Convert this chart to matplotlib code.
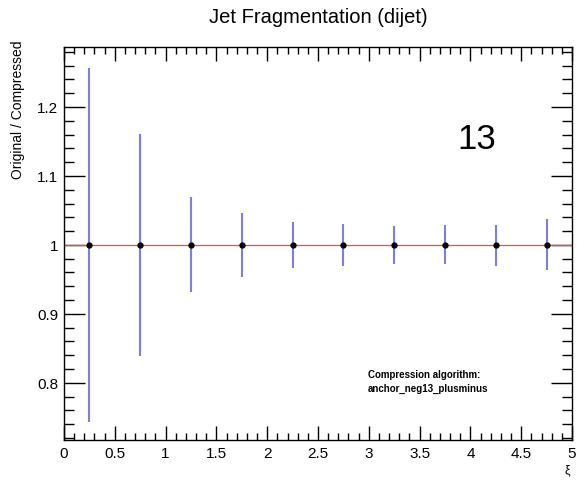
import numpy as np
import matplotlib.pyplot as plt
from matplotlib.ticker import MultipleLocator

plt.rcParams["font.family"] = ["Liberation Sans", "DejaVu Sans"]

# ratio per xi bin
xi_centers = [0.25, 0.75, 1.25, 1.75, 2.25, 2.75, 3.25, 3.75, 4.25, 4.75]
ratio = [1.0, 1.0, 1.0, 1.0, 1.0, 1.0, 1.0, 1.0005, 0.9995, 1.0]
ratio_err = [0.257, 0.161, 0.069, 0.046, 0.033, 0.030, 0.028, 0.028, 0.030, 0.037]
bin_edges = [0.0, 0.5, 1.0, 1.5, 2.0, 2.5, 3.0, 3.5, 4.0, 4.5, 5.0]

fig = plt.figure(figsize=(5.77, 4.81), dpi=100)
ax = fig.add_axes([0.1109, 0.0832, 0.8804, 0.817])

# red ratio histogram line
ax.stairs(ratio, bin_edges, color="#f04848", linewidth=0.9, baseline=None, zorder=2)

ax.errorbar(xi_centers, ratio, yerr=ratio_err, fmt="o", color="black",
            markersize=3.5, ecolor="#7f7fd8", elinewidth=1.5, capsize=0, zorder=3)

ax.set_xlim(0, 5)
ax.set_ylim(0.717, 1.287)

ax.xaxis.set_minor_locator(MultipleLocator(0.1))
ax.yaxis.set_minor_locator(MultipleLocator(0.02))
ax.set_xticks([0, 0.5, 1, 1.5, 2, 2.5, 3, 3.5, 4, 4.5, 5])
ax.set_xticklabels(["0", "0.5", "1", "1.5", "2", "2.5", "3", "3.5", "4", "4.5", "5"])
ax.set_yticks([0.8, 0.9, 1.0, 1.1, 1.2])
ax.set_yticklabels(["0.8", "0.9", "1", "1.1", "1.2"])

ax.tick_params(axis="x", which="major", direction="in", length=10, width=1,
               top=True, labelsize=11, pad=4)
ax.tick_params(axis="x", which="minor", direction="in", length=5, width=1, top=True)
ax.tick_params(axis="y", which="major", direction="in", length=15, width=1,
               right=True, labelsize=11, pad=4)
ax.tick_params(axis="y", which="minor", direction="in", length=7, width=1, right=True)
for sp in ax.spines.values():
    sp.set_linewidth(1.0)

fig.text(0.551, 0.963, "Jet Fragmentation (dijet)", ha="center", va="center",
         fontsize=14.5)
fig.text(0.031, 0.915, "Original / Compressed", rotation=90, ha="center",
         va="top", fontsize=10)
fig.text(0.983, 0.022, "ξ", ha="center", va="center", fontsize=9)

ax.text(0.792, 0.711, "13", transform=fig.transFigure, ha="left", va="center",
        fontsize=25)
ax.text(0.638, 0.206, "Compression algorithm:\nanchor_neg13_plusminus",
        transform=fig.transFigure, ha="left", va="center", fontsize=7,
        fontweight="bold", linespacing=1.4)

fig.savefig("out.png", dpi=100)
